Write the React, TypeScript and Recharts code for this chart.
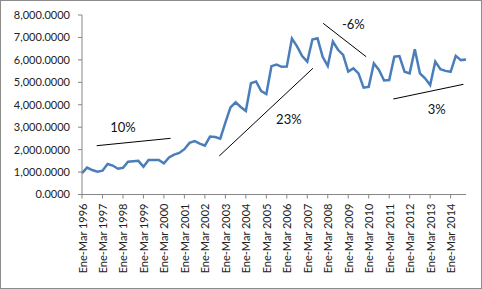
import React from 'react';
import { LineChart, Line, XAxis, YAxis, ReferenceLine, ReferenceDot } from 'recharts';

const years = [1996, 1997, 1998, 1999, 2000, 2001, 2002, 2003, 2004, 2005, 2006, 2007, 2008, 2009, 2010, 2011, 2012, 2013, 2014];
const quarters = ['Ene-Mar', 'Abr-Jun', 'Jul-Sep', 'Oct-Dic'];

const values = [
  950, 1200, 1090, 1020,
  1060, 1360, 1290, 1150,
  1190, 1460, 1480, 1500,
  1240, 1540, 1540, 1540,
  1390, 1650, 1780, 1850,
  2020, 2300, 2380, 2270,
  2180, 2580, 2560, 2490,
  3200, 3880, 4110, 3900,
  3720, 4960, 5040, 4610,
  4480, 5720, 5790, 5690,
  5700, 6950, 6600, 6170,
  5920, 6910, 6960, 6140,
  5730, 6820, 6450, 6220,
  5480, 5620, 5400, 4760,
  4800, 5840, 5550, 5080,
  5100, 6140, 6170, 5470,
  5400, 6470, 5400, 5180,
  4880, 5920, 5580, 5510,
  5470, 6180, 5990, 6020,
];

const categories = years.flatMap((y) => quarters.map((q) => `${q} ${y}`));
const yTicks = [0, 1000, 2000, 3000, 4000, 5000, 6000, 7000, 8000];
const xTicks = years.map((_, i) => i * 4);

const trends = [
  { label: '10%', from: { x: 2.87, y: 2175 }, to: { x: 17.3, y: 2504 }, text: { x: 8.0, y: 2975 } },
  { label: '23%', from: { x: 26.8, y: 1716 }, to: { x: 45.1, y: 5624 }, text: { x: 40.4, y: 3365 } },
  { label: '-6%', from: { x: 47.1, y: 7629 }, to: { x: 55.5, y: 6141 }, text: { x: 53.0, y: 7598 } },
  { label: '3%', from: { x: 60.8, y: 4256 }, to: { x: 74.5, y: 4911 }, text: { x: 69.3, y: 3810 } },
];

const data = values.map((v, i) => ({ idx: i, name: categories[i], value: v }));

const fmtY = (v: number) => v.toLocaleString('en-US', { minimumFractionDigits: 4, maximumFractionDigits: 4 });

const XTick = (props: any) => {
  const { x, y, payload } = props;
  return (
    <text
      x={x}
      y={y}
      transform={`rotate(-90, ${x}, ${y})`}
      textAnchor="end"
      dominantBaseline="central"
      fontSize={11}
      fill="#222"
    >
      {categories[payload.value]}
    </text>
  );
};

export default function App() {
  return (
    <div
      style={{
        position: 'absolute',
        left: 0,
        top: 0,
        width: 482,
        height: 289,
        boxSizing: 'border-box',
        border: '1px solid #8c8c8c',
        fontFamily: 'Lato, "Liberation Sans", sans-serif',
        background: '#fff',
      }}
    >
      <div style={{ position: 'absolute', left: -1, top: -1 }}>
        <LineChart width={482} height={289} data={data} margin={{ top: 15, right: 16, bottom: 5, left: 0 }}>
          <XAxis
            dataKey="idx"
            type="number"
            domain={[0, 75]}
            ticks={xTicks}
            interval={0}
            height={89.5}
            tickSize={4}
            tickMargin={5}
            tick={<XTick />}
            stroke="#868686"
          />
          <YAxis
            domain={[0, 8000]}
            ticks={yTicks}
            width={82}
            tickSize={4}
            tickMargin={8}
            tickFormatter={fmtY}
            tick={{ fontSize: 11, fill: '#222' }}
            stroke="#868686"
          />
          <Line
            type="linear"
            dataKey="value"
            stroke="#4a7ebb"
            strokeWidth={2.5}
            dot={false}
            isAnimationActive={false}
          />
          {trends.map((t) => (
            <ReferenceLine key={t.label} segment={[t.from, t.to]} stroke="#000" strokeWidth={1} ifOverflow="visible" />
          ))}
          {trends.map((t) => (
            <ReferenceDot
              key={'l' + t.label}
              x={t.text.x}
              y={t.text.y}
              r={0}
              fill="none"
              stroke="none"
              ifOverflow="visible"
              label={{ value: t.label, position: 'center', fontSize: 13, fill: '#111' }}
            />
          ))}
        </LineChart>
      </div>
    </div>
  );
}
